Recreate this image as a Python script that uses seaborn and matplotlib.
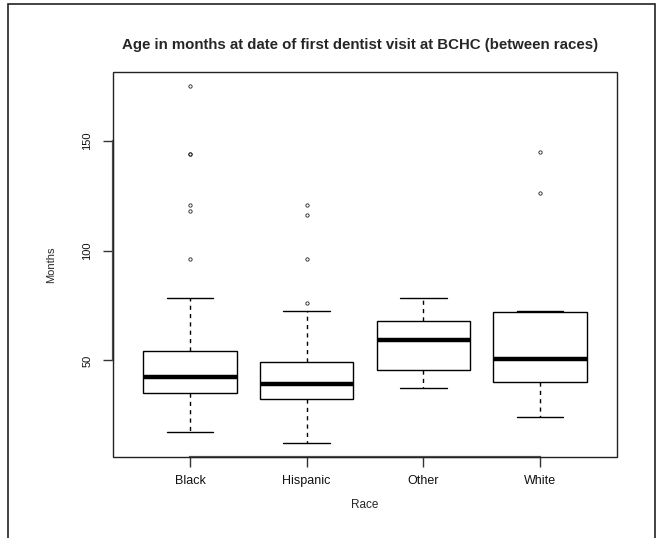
import pandas as pd
import matplotlib
matplotlib.use("Agg")
import matplotlib.pyplot as plt
import seaborn as sns
from matplotlib.patches import Rectangle

# age in months at first dentist visit
races = ["Black", "Hispanic", "Other", "White"]
black = [17.5, 22, 26, 29, 31, 33, 34, 35, 36, 37, 38, 39, 40, 41, 42.4,
         44, 46, 48, 50, 51, 53, 54.4, 78.4, 96.2, 118.2, 120.5, 144, 144, 174.7]
hispanic = [12.6, 20, 24, 27, 30, 32.4, 34, 36, 37, 38, 39.5, 41, 43, 45, 47,
            49.1, 72.3, 76, 96.2, 116.3, 120.5]
other = [37.7, 42, 45.8, 52, 59.3, 63, 67.8, 74, 78.4]
white = [24.3, 30, 36, 40.3, 44, 48, 50.6, 58, 66, 71.9, 72.3, 126.1, 144.8]
y_ticks = [50, 100, 150]

title = "Age in months at date of first dentist visit at BCHC (between races)"

df = pd.DataFrame({
    "Race": ["Black"] * len(black) + ["Hispanic"] * len(hispanic)
            + ["Other"] * len(other) + ["White"] * len(white),
    "Months": black + hispanic + other + white,
})

sns.set_theme(style="white")
plt.rcParams['font.family'] = ['Liberation Sans', 'DejaVu Sans']

W, H = 657, 538
fig = plt.figure(figsize=(W / 100, H / 100), dpi=100)
ax = fig.add_axes([113 / W, 1 - 457 / H, (617 - 113) / W, (457 - 72) / H])

sns.boxplot(data=df, x="Race", y="Months", order=races, ax=ax, width=0.8, whis=1.5,
            color="white", linecolor="black", linewidth=1,
            whiskerprops=dict(linestyle=(0, (3, 3))),
            medianprops=dict(linewidth=3.2),
            flierprops=dict(marker="o", markersize=2.4, markerfacecolor="none",
                            markeredgecolor="#222222", markeredgewidth=0.6))

# R-like limits: 4% padding around data range
lo, hi = df["Months"].min(), df["Months"].max()
pad = 0.04 * (hi - lo)
ax.set_ylim(lo - pad, hi + pad)
ax.set_xlim(-0.5 - 0.16, len(races) - 0.5 + 0.16)

ax.set_yticks(y_ticks)
ax.set_yticklabels([str(t) for t in y_ticks], rotation=90, va="center")
ax.tick_params(axis="both", length=7, width=1, color="#333333", labelsize=8,
               direction="out", left=True, bottom=True, colors="#111111")
ax.tick_params(axis="x", pad=6, labelsize=9)
ax.tick_params(axis="y", pad=8)

for s in ["top", "right"]:
    ax.spines[s].set_visible(False)
ax.spines["left"].set_bounds(y_ticks[0], y_ticks[-1])
ax.spines["bottom"].set_bounds(0, len(races) - 1)
for s in ["left", "bottom"]:
    ax.spines[s].set_color("#555555")
    ax.spines[s].set_linewidth(1.6)

# plot region box
ax.add_patch(Rectangle((0, 0), 1, 1, transform=ax.transAxes, fill=False,
                       edgecolor="#222222", linewidth=1, clip_on=False, zorder=5))

ax.set_xlabel("Race", fontsize=8.5)
ax.set_ylabel("Months", fontsize=8)
ax.xaxis.set_label_coords(0.5, -0.11)
ax.yaxis.set_label_coords(-0.113, 0.5)

fig.text(360 / W, 1 - 45 / H, title, ha="center", va="center",
         fontsize=10.8, fontweight="bold")

# outer frame around the whole chart
fig.patches.append(Rectangle((8 / W, -0.02), (655 - 8) / W, 1.02 - 4 / H,
                             transform=fig.transFigure, fill=False,
                             edgecolor="#222222", linewidth=1.2))

fig.savefig("out.png", dpi=100)
